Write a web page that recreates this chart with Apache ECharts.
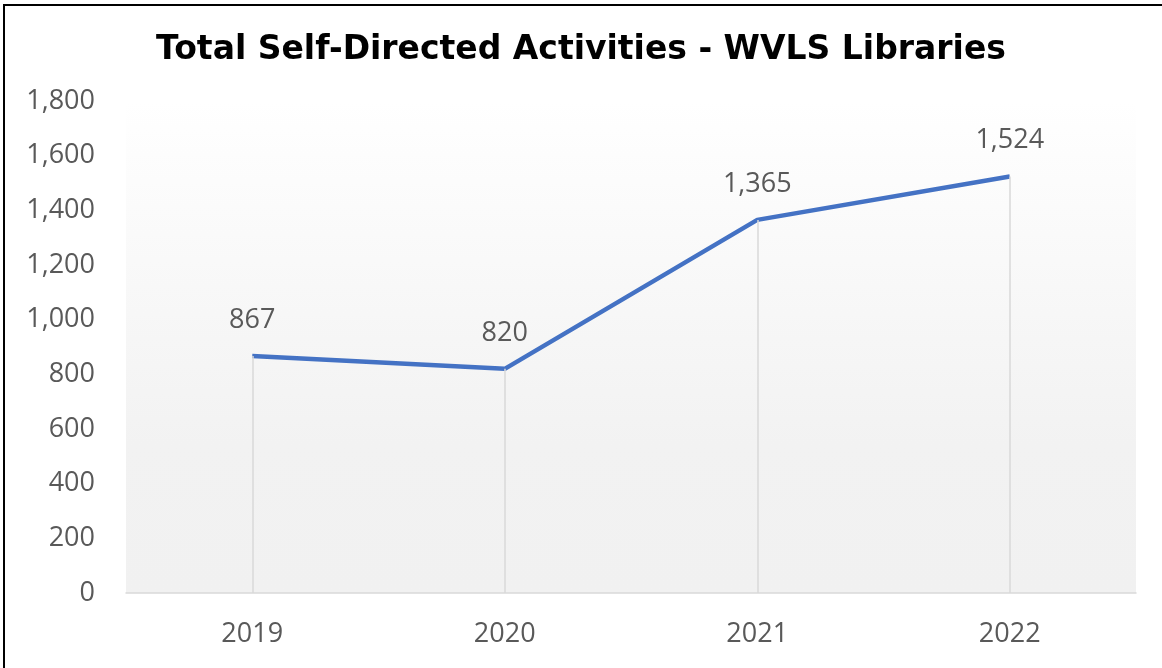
<!DOCTYPE html>
<html><head><meta charset="utf-8">
<script src="https://cdn.jsdelivr.net/npm/echarts@6/dist/echarts.min.js"></script>
<style>
html,body{margin:0;padding:0;background:#fff;overflow:hidden;}
#topb{position:absolute;left:3px;top:4px;width:1159px;height:2px;background:#000;}
#leftb{position:absolute;left:3px;top:4px;width:2px;height:664px;background:#000;}
#c{position:absolute;left:0;top:0;width:1162px;height:668px;}
</style></head>
<body>
<div id="topb"></div>
<div id="leftb"></div>
<div id="c"></div>
<script>
const categories = ['2019', '2020', '2021', '2022'];
const values = [867, 820, 1365, 1524];
const titleText = 'Total Self-Directed Activities - WVLS Libraries';

const chart = echarts.init(document.getElementById('c'));
const dropLines = values.map((v, i) => [{ coord: [i, 0] }, { coord: [i, v] }]);
chart.setOption({
  animation: false,
  title: {
    text: titleText, left: 'center', top: 29,
    textStyle: { fontFamily: 'DejaVu Sans', fontWeight: 'bold', fontSize: 33, color: '#000' }
  },
  grid: {
    left: 126, right: 26, top: 101, bottom: 75, show: true, borderWidth: 0,
    backgroundColor: new echarts.graphic.LinearGradient(0, 0, 0, 1, [
      { offset: 0, color: '#ffffff' }, { offset: 0.7, color: '#f2f2f2' }, { offset: 1, color: '#f1f1f1' }
    ])
  },
  xAxis: {
    type: 'category', data: categories, boundaryGap: true,
    axisLine: { lineStyle: { color: '#d9d9d9', width: 1.5 } },
    axisTick: { show: false },
    axisLabel: { color: '#595959', fontSize: 27, fontFamily: 'Open Sans', margin: 28 }
  },
  yAxis: {
    type: 'value', min: 0, max: 1800, interval: 200,
    axisLine: { show: false }, axisTick: { show: false }, splitLine: { show: false },
    axisLabel: { color: '#595959', fontSize: 27, fontFamily: 'Open Sans', margin: 31,
      formatter: v => v.toLocaleString('en-US') }
  },
  series: [{
    type: 'line', data: values, symbol: 'circle', symbolSize: 1, showSymbol: true,
    itemStyle: { color: 'rgba(0,0,0,0)' },
    lineStyle: { color: '#4472C4', width: 4.5 },
    label: { show: true, position: 'top', distance: 22, color: '#595959', fontSize: 27, fontFamily: 'Open Sans',
      formatter: p => p.value.toLocaleString('en-US') },
    markLine: {
      silent: true, symbol: 'none', label: { show: false },
      lineStyle: { color: '#d9d9d9', width: 1.5, type: 'solid' },
      data: dropLines
    },
    z: 3
  }]
});
</script>
</body></html>
